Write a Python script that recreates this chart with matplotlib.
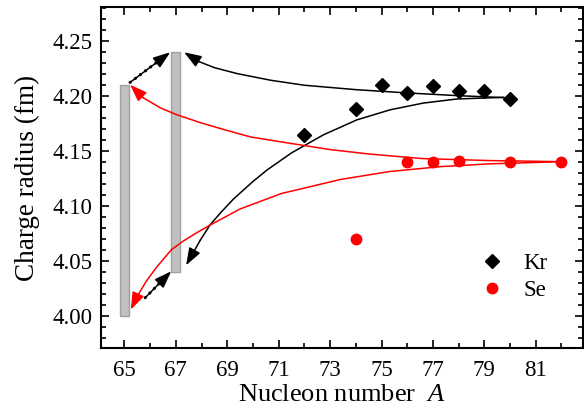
import matplotlib
matplotlib.use("Agg")
import matplotlib.pyplot as plt
from matplotlib.ticker import MultipleLocator, FormatStrFormatter

# measured charge radii
kr_a = [72, 74, 75, 76, 77, 78, 79, 80]
kr_r = [4.164, 4.1875, 4.210, 4.202, 4.2085, 4.204, 4.204, 4.197]
se_a = [74, 76, 77, 78, 80, 82]
se_r = [4.070, 4.1395, 4.1395, 4.141, 4.140, 4.140]

# predicted ranges for A = 65, 67 (bars)
bar_a = [65, 67]
bar_lo = [4.00, 4.04]
bar_hi = [4.21, 4.24]

# extrapolation curves (last point = arrow tip)
kr_up_a = [80, 78, 76, 74, 72, 70.7, 69.4, 68.5, 67.9, 67.32]
kr_up_r = [4.198, 4.200, 4.2025, 4.2055, 4.2095, 4.214, 4.220, 4.2255, 4.231, 4.2395]
kr_lo_a = [79.74, 77.93, 76.63, 75.34, 74.04, 72.74, 71.5, 70.54, 70.0, 69.24, 68.72, 68.33, 67.95, 67.40]
kr_lo_r = [4.1985, 4.197, 4.1933, 4.1872, 4.178, 4.1644, 4.148, 4.1323, 4.122, 4.106, 4.093, 4.0825, 4.0686, 4.0458]
se_up_a = [82, 79.2, 76.6, 74.5, 73.0, 71.5, 69.9, 68.9, 67.95, 67.0, 66.39, 65.74, 65.22]
se_up_r = [4.140, 4.141, 4.1428, 4.147, 4.151, 4.1565, 4.1625, 4.169, 4.1755, 4.183, 4.189, 4.198, 4.210]
se_lo_a = [82, 79.2, 77.3, 75.3, 73.4, 71.1, 69.5, 68.33, 67.82, 67.3, 66.83, 66.26, 65.87, 65.48, 65.25]
se_lo_r = [4.140, 4.138, 4.1355, 4.131, 4.1238, 4.111, 4.097, 4.0823, 4.0755, 4.068, 4.060, 4.0443, 4.032, 4.017, 4.0055]

# dotted links between the bars (start, tip)
dot_up = [(65.22, 4.2121), (66.78, 4.2395)]
dot_lo = [(65.81, 4.0163), (66.82, 4.0403)]

plt.rcParams["font.family"] = ["Liberation Serif", "DejaVu Serif"]
plt.rcParams["mathtext.fontset"] = "custom"
plt.rcParams["mathtext.rm"] = "Liberation Serif"
plt.rcParams["mathtext.it"] = "Liberation Serif:italic"

fig = plt.figure(figsize=(5.84, 4.09), dpi=100)
ax = fig.add_axes([0.173, 0.149, 0.825, 0.834])

ax.bar(bar_a, [h - l for h, l in zip(bar_hi, bar_lo)], bottom=bar_lo, width=0.34,
       color="#c0c0c0", edgecolor="#a0a0a0", linewidth=1.0, zorder=1)

HEAD = "-|>,head_length=0.75,head_width=0.27"


def head(tip, back, color):
    ax.annotate("", xy=tip, xytext=back,
                arrowprops=dict(arrowstyle=HEAD, color=color, lw=1.1,
                                shrinkA=0, shrinkB=0, mutation_scale=14), zorder=3)


def curve(xs, ys, color):
    ax.plot(xs[:-1], ys[:-1], color=color, lw=1.1, zorder=2)
    head((xs[-1], ys[-1]), (xs[-2], ys[-2]), color)


curve(kr_up_a, kr_up_r, "black")
curve(kr_lo_a, kr_lo_r, "black")
curve(se_up_a, se_up_r, "red")
curve(se_lo_a, se_lo_r, "red")

for p0, p1 in (dot_up, dot_lo):
    ax.plot([p0[0], p1[0]], [p0[1], p1[1]], color="black", lw=2.2,
            linestyle=(0, (0.1, 2.0)), dash_capstyle="round", zorder=3)
    head(p1, p0, "black")

ax.plot(kr_a, kr_r, "D", color="black", ms=7, ls="none", label="Kr", zorder=4)
ax.plot(se_a, se_r, "o", color="red", ms=7.5, ls="none", label="Se", zorder=4)

ax.set_xlim(64.09, 82.83)
ax.set_ylim(3.9705, 4.2807)
ax.set_xticks(range(65, 83, 2))
ax.xaxis.set_minor_locator(MultipleLocator(1))
ax.yaxis.set_major_locator(MultipleLocator(0.05))
ax.yaxis.set_minor_locator(MultipleLocator(0.01))
ax.yaxis.set_major_formatter(FormatStrFormatter("%.2f"))
ax.tick_params(which="both", direction="in", top=True, right=True, labelsize=16.5, width=1.2)
ax.tick_params(which="major", length=6)
ax.tick_params(which="minor", length=3.5)
ax.tick_params(axis="x", pad=8.5)
ax.tick_params(axis="y", pad=6.5)
for s in ax.spines.values():
    s.set_linewidth(1.5)

ax.set_xlabel("Nucleon number  $\\mathit{A}$", fontsize=19, labelpad=2.5)
ax.set_ylabel("Charge radius (fm)", fontsize=19.5, labelpad=9)

ax.legend(loc="lower right", bbox_to_anchor=(0.96, 0.092), frameon=False, fontsize=16.5,
          handletextpad=0.6, labelspacing=0.25, borderpad=0.2, handlelength=1.5)

fig.savefig("out.png", dpi=100)
